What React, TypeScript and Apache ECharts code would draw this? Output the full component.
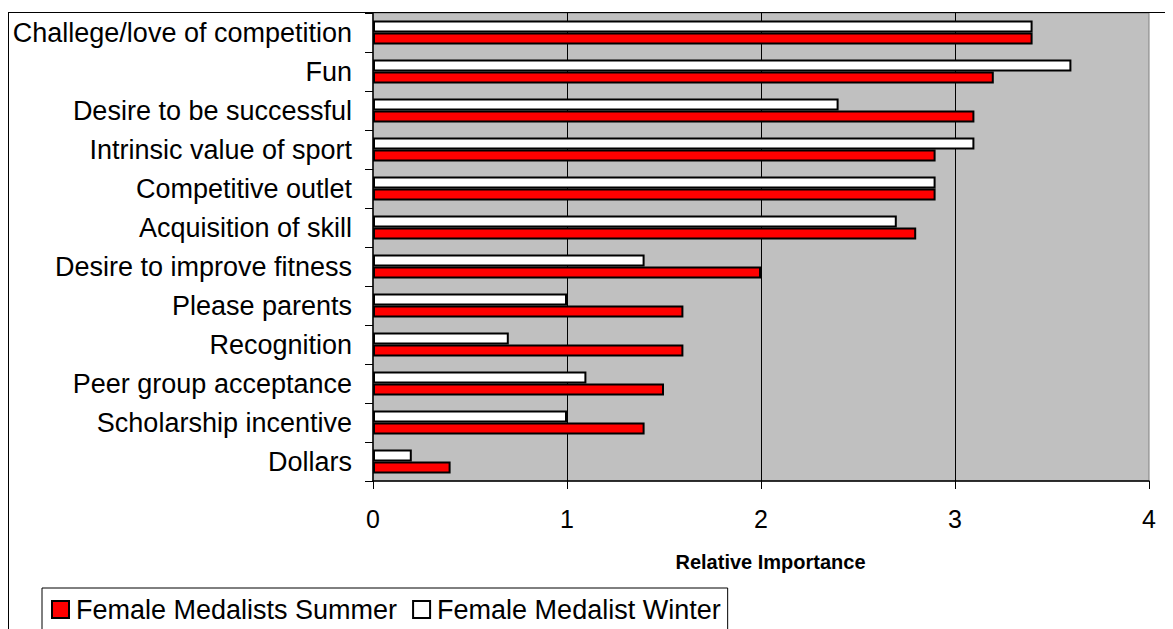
import React, { useEffect, useRef } from "react";
import * as echarts from "echarts";

const categories = [
  "Challege/love of competition",
  "Fun",
  "Desire to be successful",
  "Intrinsic value of sport",
  "Competitive outlet",
  "Acquisition of skill",
  "Desire to improve fitness",
  "Please parents",
  "Recognition",
  "Peer group acceptance",
  "Scholarship incentive",
  "Dollars",
];

const summerValues = [3.4, 3.2, 3.1, 2.9, 2.9, 2.8, 2.0, 1.6, 1.6, 1.5, 1.4, 0.4];
const winterValues = [3.4, 3.6, 2.4, 3.1, 2.9, 2.7, 1.4, 1.0, 0.7, 1.1, 1.0, 0.2];

const summerName = "Female Medalists Summer";
const winterName = "Female Medalist Winter";
const xTickLabels = ["0", "1", "2", "3", "4"];
const axisTitle = "Relative Importance";

const FONT = "'Liberation Sans', Arial, sans-serif";

export default function App() {
  const ref = useRef<HTMLDivElement>(null);

  useEffect(() => {
    if (!ref.current) return;
    const chart = echarts.init(ref.current, null, { renderer: "svg" });
    const option = {
      animation: false,
      backgroundColor: "#ffffff",
      textStyle: { fontFamily: FONT },
      grid: {
        left: 365,
        top: 5,
        width: 776,
        height: 468,
        show: true,
        backgroundColor: "#c0c0c0",
        borderColor: "#808080",
        borderWidth: 1,
      },
      legend: {
        left: 34,
        top: 580,
        orient: "horizontal",
        data: [summerName, winterName],
        padding: [8, 7, 30, 9],
        itemGap: 15,
        itemWidth: 17,
        itemHeight: 17,
        icon: "rect",
        borderColor: "#000000",
        borderWidth: 1,
        backgroundColor: "#ffffff",
        textStyle: { fontFamily: FONT, fontSize: 27, color: "#000000", padding: [0, 0, 0, 2] },
      },
      xAxis: {
        type: "value",
        min: 0,
        max: 4,
        interval: 1,
        name: axisTitle,
        nameLocation: "middle",
        nameGap: 71,
        nameTextStyle: {
          fontFamily: FONT,
          fontSize: 20,
          fontWeight: "bold",
          color: "#000000",
          padding: [0, 0, 0, 19],
        },
        axisLine: { show: true, lineStyle: { color: "#000000", width: 1.5 } },
        axisTick: { show: true, inside: false, length: 8, lineStyle: { color: "#000000", width: 1 } },
        axisLabel: {
          margin: 25,
          fontFamily: FONT,
          fontSize: 25,
          color: "#000000",
          formatter: (v: number) => xTickLabels[Math.round(v)] ?? String(v),
        },
        splitLine: {
          show: true,
          showMinLine: false,
          showMaxLine: false,
          lineStyle: { color: "#000000", width: 1 },
        },
      },
      yAxis: {
        type: "category",
        data: categories,
        inverse: true,
        axisLine: { show: true, lineStyle: { color: "#000000", width: 1.5 } },
        axisTick: { show: true, inside: false, length: 8, alignWithLabel: false, lineStyle: { color: "#000000", width: 1 } },
        axisLabel: {
          margin: 21,
          fontFamily: FONT,
          fontSize: 27,
          color: "#000000",
        },
        splitLine: { show: false },
      },
      series: [
        {
          name: winterName,
          type: "bar",
          data: winterValues,
          barWidth: 12,
          barGap: "0%",
          itemStyle: { color: "#ffffff", borderColor: "#000000", borderWidth: 2 },
        },
        {
          name: summerName,
          type: "bar",
          data: summerValues,
          barWidth: 12,
          barGap: "0%",
          itemStyle: { color: "#ff0000", borderColor: "#000000", borderWidth: 2 },
        },
      ],
      graphic: [
        {
          type: "line",
          shape: { x1: 0, y1: 4.5, x2: 1165, y2: 4.5 },
          style: { stroke: "#000000", lineWidth: 1 },
          z: 100,
        },
        {
          type: "line",
          shape: { x1: 0.5, y1: 4.5, x2: 0.5, y2: 621 },
          style: { stroke: "#000000", lineWidth: 1 },
          z: 100,
        },
      ],
    };
    chart.setOption(option as any);
    return () => chart.dispose();
  }, []);

  return <div ref={ref} style={{ width: 1165, height: 621 }} />;
}
